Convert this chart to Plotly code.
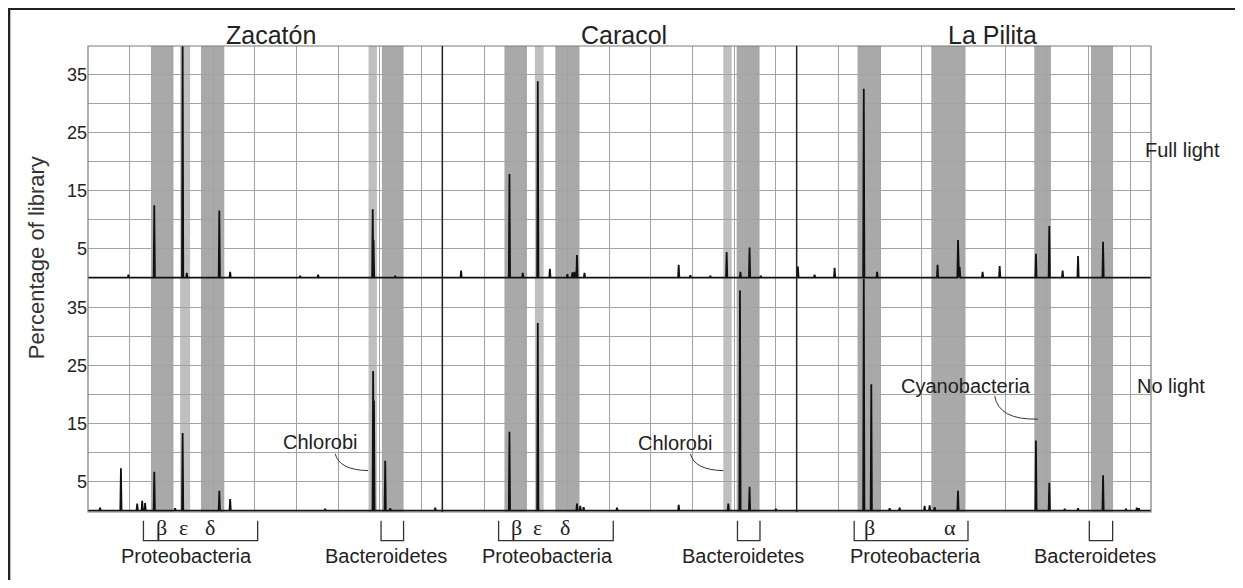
import plotly.graph_objects as go
from plotly.subplots import make_subplots

# ---------------- data ----------------
sites = ["Zacatón", "Caracol", "La Pilita"]
conditions = ["Full light", "No light"]

# peak positions along each site's OTU axis (0-85) and % of library
zac_full_pos = [9.7, 15.9, 22.7, 23.7, 31.5, 34.1, 50.9, 55.2, 68.3, 68.5, 73.7]
zac_full_pct = [0.5, 12.5, 41.0, 0.8, 11.6, 1.0, 0.3, 0.5, 11.8, 6.5, 0.3]
zac_dark_pos = [2.9, 7.9, 11.8, 13.0, 13.7, 15.9, 20.9, 22.7, 31.5, 34.1, 56.9, 68.4, 68.6, 71.3, 72.5, 83.3]
zac_dark_pct = [0.5, 7.3, 1.2, 1.7, 1.3, 6.7, 0.4, 13.4, 3.4, 2.0, 0.3, 24.1, 19.0, 8.6, 0.4, 0.5]

car_full_pos = [4.5, 16.1, 19.3, 22.9, 25.8, 30.0, 31.2, 31.7, 32.3, 34.1, 56.7, 59.5, 64.3, 68.2, 71.5, 73.7, 76.4]
car_full_pct = [1.2, 17.9, 0.8, 33.9, 1.5, 0.6, 0.9, 1.0, 3.9, 0.8, 2.2, 0.4, 0.3, 4.4, 1.0, 5.2, 0.3]
car_dark_pos = [16.1, 22.9, 32.3, 33.1, 33.9, 41.9, 56.7, 68.6, 71.4, 73.7, 80.0]
car_dark_pct = [13.6, 32.4, 1.2, 0.8, 0.6, 0.5, 1.0, 1.2, 38.0, 4.1, 0.3]

pil_full_pos = [0.3, 4.3, 9.1, 16.1, 19.3, 33.8, 38.7, 39.1, 44.6, 48.7, 57.4, 60.6, 63.8, 67.5, 73.5]
pil_full_pct = [1.9, 0.5, 1.7, 32.6, 1.0, 2.2, 6.5, 1.8, 1.0, 2.0, 4.1, 8.9, 1.2, 3.7, 6.2]
pil_dark_pos = [16.1, 17.9, 22.3, 24.7, 30.7, 31.9, 33.1, 38.7, 57.4, 60.6, 64.3, 67.5, 73.5, 79.0, 81.6, 82.1]
pil_dark_pct = [41.0, 21.8, 0.4, 0.5, 0.8, 0.9, 0.6, 3.4, 12.1, 4.8, 0.3, 0.4, 6.1, 0.3, 0.5, 0.4]

positions = [[zac_full_pos, car_full_pos, pil_full_pos], [zac_dark_pos, car_dark_pos, pil_dark_pos]]
percents = [[zac_full_pct, car_full_pct, pil_full_pct], [zac_dark_pct, car_dark_pct, pil_dark_pct]]

# shaded groups (start, end) on each site's OTU axis
dark_bands = [
    [(15.1, 20.5), (27.1, 32.7), (70.5, 75.7)],
    [(14.9, 20.3), (27.1, 32.9), (70.6, 76.1)],
    [(14.6, 20.1), (32.3, 40.5), (57.0, 61.0), (70.6, 75.9)],
]
light_bands = [
    [(22.1, 24.5), (67.3, 69.3)],
    [(22.2, 24.3), (67.4, 69.4)],
    [],
]

# brackets below the axis
proteo_brackets = [(13.3, 40.7), (13.5, 41.0), (13.8, 41.1)]
bactero_brackets = [(70.3, 75.7), (70.8, 76.2), (70.2, 75.8)]
proteo_label_x = [23.7, 25.2, 28.5]
bactero_label_x = [71.6, 72.1, 71.6]
greek_labels = [
    [("β", 17.7), ("ε", 22.9), ("δ", 29.3)],
    [("β", 17.8), ("ε", 22.9), ("δ", 29.5)],
    [("β", 17.5), ("α", 36.7)],
]

y_ticks = [0, 5, 10, 15, 20, 25, 30, 35, 40]
y_ticktext = ["", "5", "", "15", "", "25", "", "35", ""]
x_grid = [10, 20, 30, 40, 50, 60, 70, 80]
X_MAX = 85
HALF_W = 0.15

# ---------------- figure ----------------
FONT = "Liberation Sans, Arial, sans-serif"
GRID = "#a3a3a3"
fig = make_subplots(rows=2, cols=3, horizontal_spacing=0, vertical_spacing=0)

for r in range(2):
    for c in range(3):
        pairs = sorted(zip(positions[r][c], percents[r][c]))
        xs, ys = [0], [0]
        for p, h in pairs:
            xs += [p - HALF_W, p, p + HALF_W]
            ys += [0, h, 0]
        xs.append(X_MAX)
        ys.append(0)
        fig.add_trace(go.Scatter(x=xs, y=ys, mode="lines",
                                 line=dict(color="#111111", width=1.8),
                                 hoverinfo="skip", showlegend=False),
                      row=r + 1, col=c + 1)
        fig.update_xaxes(range=[0, X_MAX], tickmode="array", tickvals=x_grid,
                         showticklabels=False, ticks="", showgrid=True,
                         gridcolor=GRID, gridwidth=1, zeroline=False, showline=False,
                         row=r + 1, col=c + 1)
        fig.update_yaxes(range=[-0.25, 40], tickmode="array", tickvals=y_ticks,
                         ticktext=y_ticktext, showticklabels=(c == 0), ticks="",
                         showgrid=True, gridcolor=GRID, gridwidth=1, zeroline=False,
                         showline=False, tickfont=dict(family=FONT, size=18, color="#222"),
                         row=r + 1, col=c + 1)

shapes = []
xrefs = ["x", "x2", "x3"]
for c in range(3):
    for (a, b) in dark_bands[c]:
        shapes.append(dict(type="rect", xref=xrefs[c], yref="paper", x0=a, x1=b, y0=0, y1=1,
                           fillcolor="#a9a9a9", line=dict(width=0), layer="below"))
    for (a, b) in light_bands[c]:
        shapes.append(dict(type="rect", xref=xrefs[c], yref="paper", x0=a, x1=b, y0=0, y1=1,
                           fillcolor="#bfbfbf", line=dict(width=0), layer="below"))
    # brackets
    yt, yb = -0.0187, -0.0616
    for (a, b) in [proteo_brackets[c], bactero_brackets[c]]:
        shapes.append(dict(type="path", xref=xrefs[c], yref="paper",
                           path=f"M {a},{yt} L {a},{yb} L {b},{yb} L {b},{yt}",
                           line=dict(color="#333", width=1.3)))

# plot border and column dividers
shapes.append(dict(type="rect", xref="paper", yref="paper", x0=0, x1=1, y0=0, y1=1,
                   line=dict(color="#7a7a7a", width=1.2), layer="above"))
for xp in [1 / 3, 2 / 3]:
    shapes.append(dict(type="line", xref="paper", yref="paper", x0=xp, x1=xp, y0=0, y1=1,
                       line=dict(color="#222", width=1.5), layer="above"))
# outer frame (top and left) as thin filled strips, top one running to the page edge
shapes.append(dict(type="rect", xref="paper", yref="paper", x0=-0.0755, x1=1.095,
                   y0=1.077, y1=1.082, fillcolor="#222", line=dict(width=0)))
shapes.append(dict(type="rect", xref="paper", yref="paper", x0=-0.0755, x1=-0.0731,
                   y0=-0.16, y1=1.082, fillcolor="#222", line=dict(width=0)))

# leader lines for labels (bottom row axes x4,x5,x6 / y4,y5,y6)
shapes.append(dict(type="path", xref="x4", yref="y4",
                   path="M 59.3,9.8 Q 60.3,7.0 67.2,6.9", line=dict(color="#333", width=1)))
shapes.append(dict(type="path", xref="x5", yref="y5",
                   path="M 59.5,9.8 Q 60.5,7.0 67.4,6.9", line=dict(color="#333", width=1)))
shapes.append(dict(type="path", xref="x6", yref="y6",
                   path="M 47.5,19.8 Q 48.5,15.6 57.9,15.8", line=dict(color="#333", width=1)))

annotations = []
title_x = [0.172, 0.504, 0.851]
for c in range(3):
    annotations.append(dict(text=sites[c], xref="paper", yref="paper", x=title_x[c], y=1.0236,
                            showarrow=False, xanchor="center", yanchor="middle",
                            font=dict(family=FONT, size=25, color="#222")))
    annotations.append(dict(text="Proteobacteria", xref=xrefs[c], yref="paper",
                            x=proteo_label_x[c], y=-0.0944, showarrow=False,
                            xanchor="center", yanchor="middle",
                            font=dict(family=FONT, size=20, color="#222")))
    annotations.append(dict(text="Bacteroidetes", xref=xrefs[c], yref="paper",
                            x=bactero_label_x[c], y=-0.0944, showarrow=False,
                            xanchor="center", yanchor="middle",
                            font=dict(family=FONT, size=20, color="#222")))
    for (g, gx) in greek_labels[c]:
        annotations.append(dict(text=g, xref=xrefs[c], yref="paper", x=gx, y=-0.033,
                                showarrow=False, xanchor="center", yanchor="middle",
                                font=dict(family="Liberation Serif, DejaVu Serif, serif",
                                          size=22, color="#222")))

annotations.append(dict(text="Chlorobi", xref="x4", yref="y4", x=55.6, y=11.9, showarrow=False,
                        xanchor="center", yanchor="middle",
                        font=dict(family=FONT, size=20, color="#222")))
annotations.append(dict(text="Chlorobi", xref="x5", yref="y5", x=55.7, y=11.7, showarrow=False,
                        xanchor="center", yanchor="middle",
                        font=dict(family=FONT, size=20, color="#222")))
annotations.append(dict(text="Cyanobacteria", xref="x6", yref="y6", x=40.6, y=21.6, showarrow=False,
                        xanchor="center", yanchor="middle",
                        font=dict(family=FONT, size=20, color="#222")))
annotations.append(dict(text=conditions[0], xref="paper", yref="paper", x=0.9925, y=0.777,
                        showarrow=False, xanchor="left", yanchor="middle",
                        font=dict(family=FONT, size=20, color="#222")))
annotations.append(dict(text=conditions[1], xref="paper", yref="paper", x=0.985, y=0.270,
                        showarrow=False, xanchor="left", yanchor="middle",
                        font=dict(family=FONT, size=20, color="#222")))
annotations.append(dict(text="Percentage of library", xref="paper", yref="paper",
                        x=-0.0483, y=0.546, textangle=-90, showarrow=False,
                        xanchor="center", yanchor="middle",
                        font=dict(family=FONT, size=22, color="#333")))

# page body has an 8px default margin: size the figure so it fits the window
# and the plot area lands at x 88-1151, y 46-512 of the page
fig.update_layout(width=1227, height=572,
                  margin=dict(l=80, r=84, t=38, b=68),
                  paper_bgcolor="white", plot_bgcolor="rgba(0,0,0,0)",
                  shapes=shapes, annotations=annotations, showlegend=False)

fig.write_html("out.html")
